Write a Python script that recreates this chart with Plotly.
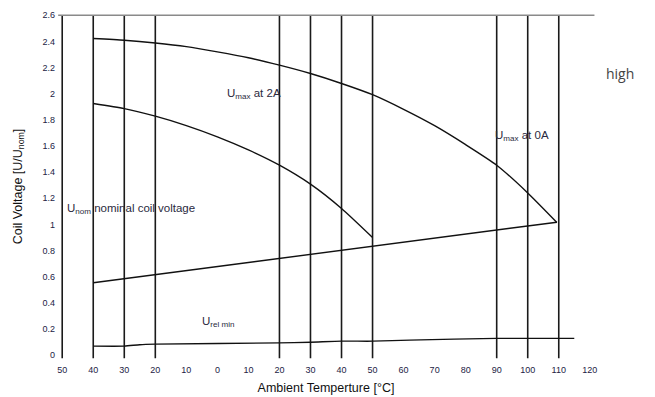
import plotly.graph_objects as go

# ---- data ----
temp_ticks = [-50, -40, -30, -20, -10, 0, 10, 20, 30, 40, 50, 60, 70, 80, 90, 100, 110, 120]
temp_tick_labels = ["50", "40", "30", "20", "10", "0", "10", "20", "30", "40", "50",
                    "60", "70", "80", "90", "100", "110", "120"]
volt_ticks = [0, 0.2, 0.4, 0.6, 0.8, 1, 1.2, 1.4, 1.6, 1.8, 2, 2.2, 2.4, 2.6]
volt_tick_labels = ["0", "0.2", "0.4", "0.6", "0.8", "1", "1.2", "1.4", "1.6", "1.8",
                    "2", "2.2", "2.4", "2.6"]

grid_temps = [-50, -40, -30, -20, 20, 30, 40, 50, 90, 100, 110]

umax0_t = [-40, -30, -20, -10, 0, 10, 20, 30, 40, 50, 60, 70, 80, 90, 100, 109.4]
umax0_v = [2.422, 2.409, 2.388, 2.36, 2.32, 2.275, 2.218, 2.154, 2.078, 1.992,
           1.88, 1.755, 1.61, 1.453, 1.241, 1.015]

umax2_t = [-40, -30, -20, -10, 0, 10, 20, 30, 40, 50]
umax2_v = [1.925, 1.886, 1.828, 1.756, 1.67, 1.57, 1.453, 1.308, 1.122, 0.9]

unom_t = [-40, 109.4]
unom_v = [0.554, 1.017]

umin_t = [-40, -30, -25, -20, 20, 30, 40, 50, 62, 90, 115]
umin_v = [0.069, 0.069, 0.08, 0.084, 0.094, 0.099, 0.107, 0.107, 0.115, 0.128, 0.128]

line_color = "#111111"
fig = go.Figure()

# vertical reference lines
gx, gy = [], []
for t in grid_temps:
    gx += [t, t, None]
    gy += [-0.023, 2.6, None]
fig.add_trace(go.Scatter(x=gx, y=gy, mode="lines",
                         line=dict(color="#1a1a1a", width=1.6), hoverinfo="skip"))
# top border line
fig.add_trace(go.Scatter(x=[-51.3, 121.5], y=[2.6, 2.6], mode="lines",
                         line=dict(color="#8a8a8a", width=1.4), hoverinfo="skip"))

for tx, vy in [(umax0_t, umax0_v), (umax2_t, umax2_v), (unom_t, unom_v), (umin_t, umin_v)]:
    fig.add_trace(go.Scatter(x=tx, y=vy, mode="lines",
                             line=dict(color=line_color, width=1.4, shape="spline", smoothing=0.6),
                             hoverinfo="skip"))

txt = dict(family="Liberation Sans, Arial, sans-serif", size=11.5, color="#2a2a40")
fig.add_annotation(x=2.5, y=2.0, text="U<sub>max</sub> at 2A", showarrow=False,
                   xanchor="left", yanchor="middle", font=txt)
fig.add_annotation(x=88.8, y=1.68, text="U<sub>max</sub> at 0A", showarrow=False,
                   xanchor="left", yanchor="middle", font=txt)
fig.add_annotation(x=-49.2, y=1.12, text="U<sub>nom</sub> nominal coil voltage", showarrow=False,
                   xanchor="left", yanchor="middle", font=txt)
fig.add_annotation(x=-5.5, y=0.25, text="U<sub>rel min</sub>", showarrow=False,
                   xanchor="left", yanchor="middle", font=txt)
fig.add_annotation(x=(612 - 48) / 540, y=290 / 353, xref="paper", yref="paper",
                   text="high", showarrow=False, xanchor="center", yanchor="middle",
                   font=dict(family="Open Sans, Roboto, sans-serif", size=14, color="#444444"))

fig.update_layout(
    width=647, height=389,
    margin=dict(l=48, r=59, t=2, b=34, autoexpand=False),
    paper_bgcolor="white", plot_bgcolor="white",
    showlegend=False,
    font=dict(family="Liberation Sans, Arial, sans-serif", color="#111111"),
    xaxis=dict(range=[-52, 122], tickmode="array", tickvals=temp_ticks,
               ticktext=temp_tick_labels, showgrid=False, zeroline=False, showline=False,
               ticks="", tickfont=dict(size=9, color="#222244"), automargin=False,
               title=dict(text="Ambient Temperture [°C]", font=dict(size=12.5, color="#111111"),
                          standoff=9)),
    yaxis=dict(range=[-0.06, 2.64], tickmode="array", tickvals=volt_ticks,
               ticktext=volt_tick_labels, showgrid=False, zeroline=False, showline=False,
               ticks="", tickfont=dict(size=9, color="#222244"), automargin=False,
               title=dict(text="Coil Voltage [U/U<sub>nom</sub>]", font=dict(size=12.5, color="#111111"),
                          standoff=17)),
)

fig.write_html("out.html")
